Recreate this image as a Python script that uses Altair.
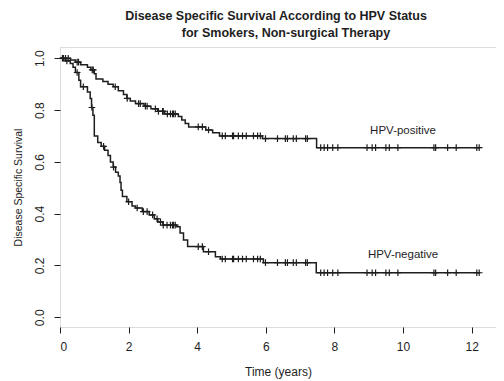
import altair as alt
import pandas as pd

# ---- data ----
pos_t = [0.0, 0.30, 0.45, 0.60, 0.80, 0.90, 1.00, 1.05, 1.25, 1.40, 1.55, 1.70, 1.85, 1.95,
         2.05, 2.20, 2.45, 2.65, 2.85, 3.05, 3.45, 3.55, 3.65, 3.75, 4.25, 4.45, 4.65, 5.90, 7.48]
pos_s = [1.0, 0.993, 0.985, 0.975, 0.965, 0.955, 0.94, 0.92, 0.91, 0.90, 0.89, 0.875, 0.86, 0.845,
         0.835, 0.825, 0.815, 0.805, 0.795, 0.785, 0.775, 0.762, 0.748, 0.735, 0.723, 0.712, 0.70, 0.69, 0.655]

neg_t = [0.0, 0.15, 0.30, 0.38, 0.45, 0.55, 0.60, 0.80, 0.88, 0.92, 0.96, 1.00, 1.10, 1.20, 1.30,
         1.40, 1.47, 1.55, 1.62, 1.70, 1.75, 1.78, 1.82, 1.95, 2.10, 2.20, 2.40, 2.60, 2.75, 2.85,
         3.00, 3.40, 3.50, 3.60, 3.72, 4.18, 4.53, 4.68, 5.93, 7.47]
neg_s = [1.0, 0.99, 0.98, 0.965, 0.945, 0.915, 0.89, 0.87, 0.845, 0.81, 0.78, 0.70, 0.675, 0.66, 0.645,
         0.625, 0.60, 0.58, 0.56, 0.545, 0.52, 0.49, 0.466, 0.446, 0.43, 0.422, 0.408, 0.395, 0.38, 0.368,
         0.356, 0.35, 0.325, 0.298, 0.273, 0.253, 0.234, 0.225, 0.211, 0.172]

end_time = 12.25

pos_censor_early = [0.07, 0.16, 0.24, 0.50, 0.54, 0.94, 0.97, 1.61, 1.96, 2.29, 2.34, 2.49, 2.54,
                    2.78, 2.87, 2.99, 3.01, 3.13]
neg_censor_early = [0.10, 0.20, 0.50, 0.68, 0.93, 1.27, 1.56, 2.00, 2.25, 2.43, 2.54, 2.70, 2.83,
                    2.93, 3.01, 3.12]
censor_late = [3.22, 3.28, 3.31, 3.36, 4.03, 4.15, 4.33, 4.73, 4.82, 5.03, 5.06, 5.20, 5.32, 5.43,
               5.64, 5.76, 5.84, 5.99, 6.34, 6.57, 6.63, 6.80, 6.89, 7.16, 7.21, 7.60, 7.70, 7.80,
               7.95, 8.10, 8.95, 9.10, 9.20, 9.50, 9.60, 9.85, 10.90, 10.95, 11.30, 11.55, 12.15, 12.22]

labels = ["HPV-positive", "HPV-negative"]
label_t = [10.0, 10.0]
label_s = [0.72, 0.24]

x_ticks = [0, 2, 4, 6, 8, 10, 12]
y_ticks = [0.0, 0.2, 0.4, 0.6, 0.8, 1.0]


def step_value(ts, ss, t):
    v = ss[0]
    for tt, s in zip(ts, ss):
        if tt <= t:
            v = s
    return v


rows = []
for g, ts, ss in (("pos", pos_t, pos_s), ("neg", neg_t, neg_s)):
    for t, s in zip(ts, ss):
        rows.append({"group": g, "t": t, "s": s})
    rows.append({"group": g, "t": end_time, "s": ss[-1]})
curves = pd.DataFrame(rows)

crows = []
for g, ts, ss, early in (("pos", pos_t, pos_s, pos_censor_early), ("neg", neg_t, neg_s, neg_censor_early)):
    for t in early + censor_late:
        crows.append({"group": g, "t": t, "s": step_value(ts, ss, t)})
censors = pd.DataFrame(crows)

lab = pd.DataFrame({"label": labels, "t": label_t, "s": label_s})

INK = "#1e1e1e"
FONT = "Liberation Sans"

xscale = alt.Scale(domain=[0, 12.71], nice=False, zero=False)
yscale = alt.Scale(domain=[-0.0375, 1.0435], nice=False, zero=False)

xaxis = alt.Axis(values=x_ticks, format="d", grid=False, domain=False, tickSize=6,
                 tickColor=INK, labelColor=INK, labelFont=FONT, labelFontSize=12,
                 labelPadding=8, title="Time (years)", titleFont=FONT, titleFontSize=12,
                 titleFontWeight="normal", titleColor=INK, titlePadding=14)
yaxis = alt.Axis(values=y_ticks, format=".1f", grid=False, domain=False, tickSize=6,
                 tickColor=INK, labelColor=INK, labelFont=FONT, labelFontSize=12,
                 labelAngle=-90, labelPadding=8, title="Disease Specific Survival",
                 titleFont=FONT, titleFontSize=10.5, titleFontWeight="normal",
                 titleColor=INK, titlePadding=10)

line = alt.Chart(curves).mark_line(interpolate="step-after", color=INK, strokeWidth=1.5).encode(
    x=alt.X("t:Q", scale=xscale, axis=xaxis),
    y=alt.Y("s:Q", scale=yscale, axis=yaxis),
    detail="group:N",
)

pts = alt.Chart(censors).mark_point(
    shape="M-1,0L1,0M0,-1L0,1", filled=False, color=INK, size=45, strokeWidth=1.2, opacity=1
).encode(x=alt.X("t:Q", scale=xscale), y=alt.Y("s:Q", scale=yscale))

txt = alt.Chart(lab).mark_text(font=FONT, fontSize=11.5, color=INK, align="center",
                               baseline="middle").encode(
    x=alt.X("t:Q", scale=xscale), y=alt.Y("s:Q", scale=yscale), text="label:N")

title = alt.TitleParams(
    text=["Disease Specific Survival According to HPV Status",
          "\u2800" * 2 + "for Smokers, Non-surgical Therapy"],
    font=FONT, fontWeight="bold", fontSize=12.5, color=INK, anchor="middle", offset=8,
    lineHeight=17, dx=-2,
)

chart = alt.layer(line, pts, txt).properties(
    width=436, height=280, title=title,
    autosize=alt.AutoSizeParams(type="none"),
    padding={"left": 52, "top": 39, "right": 0, "bottom": 54},
).configure_view(stroke=INK, strokeWidth=1.2).configure(background="white")

chart.save("out.html", embed_options={"renderer": "svg", "actions": False})
